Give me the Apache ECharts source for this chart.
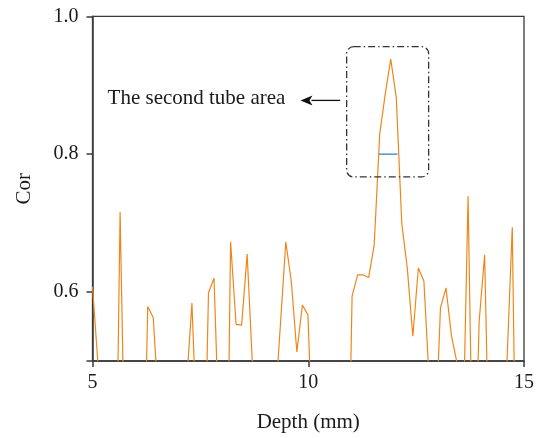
<!DOCTYPE html>
<html>
<head>
<meta charset="utf-8">
<script src="https://cdn.jsdelivr.net/npm/echarts@6/dist/echarts.min.js"></script>
<style>html,body{margin:0;padding:0;background:#fff;}#c{width:537px;height:438px;}</style>
</head>
<body>
<div id="c"></div>
<script>
var depth = [5.000,5.128,5.256,5.384,5.512,5.640,5.768,5.896,6.024,6.152,6.280,6.408,6.536,6.664,6.792,6.920,7.048,7.176,7.304,7.432,7.560,7.688,7.816,7.944,8.072,8.200,8.328,8.456,8.584,8.712,8.840,8.968,9.096,9.224,9.352,9.480,9.608,9.736,9.864,9.992,10.120,10.248,10.376,10.504,10.632,10.760,10.888,11.016,11.144,11.272,11.400,11.528,11.656,11.784,11.912,12.040,12.168,12.296,12.424,12.552,12.680,12.808,12.936,13.064,13.192,13.320,13.448,13.576,13.704,13.832,13.960,14.088,14.216,14.344,14.472,14.600,14.728,14.856,14.984];
var cor = [0.608,0.495,0.30,0.25,0.15,0.716,0.284,0.35,0.30,0.20,0.579,0.563,0.43,0.30,0.35,0.30,0.40,0.462,0.584,0.374,0.218,0.599,0.620,0.375,0.05,0.673,0.553,0.552,0.655,0.487,0.35,0.30,0.40,0.43,0.55,0.673,0.615,0.513,0.581,0.567,0.35,0.30,0.25,0.35,0.30,0.40,0.167,0.594,0.625,0.625,0.621,0.668,0.829,0.887,0.938,0.882,0.699,0.634,0.536,0.635,0.616,0.465,0.374,0.577,0.606,0.536,0.497,0.36,0.739,0.25,0.557,0.654,0.27,0.35,0.30,0.49,0.694,0.12,0.30];
var widthDepth = [11.64, 12.07];
var widthLevel = 0.8;
var xTicks = [5, 10, 15];
var yTickMarks = [0.5, 0.6, 0.8, 1.0];
var yTickLabels = [0.6, 0.8, 1.0];
var boxCorners = [[10.89, 0.956], [12.79, 0.767]];
var arrowFrom = [10.74, 0.878];
var arrowTo = [9.82, 0.878];
var noteText = 'The second tube area';
var notePos = [9.47, 0.878];

var font = '"Liberation Serif", "DejaVu Serif", serif';
var axisColor = '#3a3a3a';

var lineData = depth.map(function (d, i) { return [d, cor[i]]; });
var widthData = widthDepth.map(function (d) { return [d, widthLevel]; });

var chart = echarts.init(document.getElementById('c'), null, {renderer: 'canvas'});
chart.setOption({
  animation: false,
  backgroundColor: '#fff',
  grid: {left: 92.5, right: 10.3, top: 16.3, bottom: 75, show: true, borderColor: axisColor, borderWidth: 1.3, backgroundColor: 'transparent'},
  xAxis: {
    type: 'value', min: xTicks[0], max: xTicks[xTicks.length - 1], interval: 5,
    name: 'Depth (mm)', nameLocation: 'middle', nameGap: 51,
    nameTextStyle: {fontFamily: font, fontSize: 21, color: '#1a1a1a'},
    axisLine: {show: true, onZero: false, lineStyle: {color: axisColor, width: 1.5}},
    axisTick: {show: true, length: 6, inside: false, lineStyle: {color: axisColor, width: 1.5}},
    axisLabel: {fontFamily: font, fontSize: 20, color: '#1a1a1a', margin: 12},
    splitLine: {show: false}
  },
  yAxis: {
    type: 'value', min: 0.5, max: 1.0,
    name: 'Cor', nameLocation: 'middle', nameGap: 58,
    nameTextStyle: {fontFamily: font, fontSize: 21, color: '#1a1a1a'},
    axisLine: {show: true, onZero: false, lineStyle: {color: axisColor, width: 1.5}},
    axisTick: {show: true, length: 6, customValues: yTickMarks, lineStyle: {color: axisColor, width: 1.5}},
    axisLabel: {fontFamily: font, fontSize: 20, color: '#1a1a1a', margin: 14, customValues: yTickLabels,
      formatter: function (v) { return v.toFixed(1); }},
    splitLine: {show: false}
  },
  series: [
    {type: 'line', data: lineData, showSymbol: false, symbol: 'none', clip: true,
     lineStyle: {color: '#f0861a', width: 1.2}},
    {type: 'line', data: widthData, showSymbol: false, symbol: 'none', clip: true,
     lineStyle: {color: '#2f7ec2', width: 1.3}}
  ]
});

var b0 = chart.convertToPixel({gridIndex: 0}, boxCorners[0]);
var b1 = chart.convertToPixel({gridIndex: 0}, boxCorners[1]);
var a0 = chart.convertToPixel({gridIndex: 0}, arrowFrom);
var a1 = chart.convertToPixel({gridIndex: 0}, arrowTo);
var tp = chart.convertToPixel({gridIndex: 0}, notePos);
var headLen = 12, headHalf = 5;
chart.setOption({
  graphic: [
    {type: 'rect', shape: {x: b0[0], y: b0[1], width: b1[0] - b0[0], height: b1[1] - b0[1], r: 7},
     style: {fill: 'none', stroke: '#333', lineWidth: 1.3, lineDash: [7, 3, 1.5, 3]}, z: 10},
    {type: 'line', shape: {x1: a0[0], y1: a0[1], x2: a1[0] + headLen - 1, y2: a1[1]},
     style: {stroke: '#111', lineWidth: 1.3}, z: 10},
    {type: 'polygon', shape: {points: [[a1[0], a1[1]], [a1[0] + headLen, a1[1] - headHalf], [a1[0] + headLen - 3, a1[1]], [a1[0] + headLen, a1[1] + headHalf]]},
     style: {fill: '#111'}, z: 10},
    {type: 'text', x: tp[0], y: tp[1] - 2,
     style: {text: noteText, fontFamily: font, fontSize: 21, fill: '#1a1a1a', align: 'right', verticalAlign: 'middle'}, z: 10}
  ]
});
</script>
</body>
</html>
